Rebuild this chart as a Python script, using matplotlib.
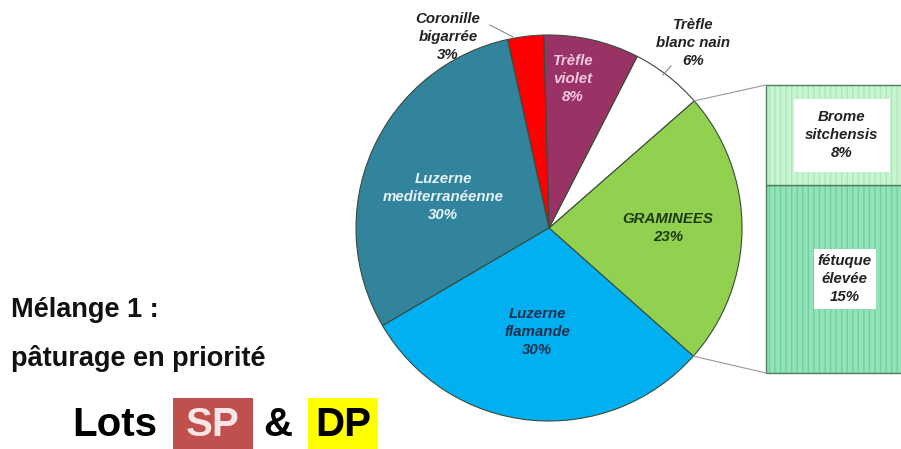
import matplotlib
matplotlib.use("Agg")
import math
import matplotlib.pyplot as plt
from matplotlib.patches import Rectangle

# ---- data ----
pie_labels = ["GRAMINEES", "Trèfle\nblanc nain", "Trèfle\nviolet", "Coronille\nbigarrée",
              "Luzerne\nmediterranéenne", "Luzerne\nflamande"]
pie_values = [23, 6, 8, 3, 30, 30]
pie_colors = ["#92D050", "#FFFFFF", "#993366", "#FF0000", "#31849B", "#00B0F0"]
pie_text_colors = ["#1E3A10", "#222222", "#F2C6E0", "#222222", "#E6F2F8", "#1F3050"]

bar_labels = ["fétuque\nélevée", "Brome\nsitchensis"]
bar_values = [15, 8]
bar_colors = ["#93E3B8", "#C8F4D2"]
bar_hatch_colors = ["#72CFA0", "#AEE8BE"]

H = 449
fig = plt.figure(figsize=(9.01, 4.49), dpi=100)
ax = fig.add_axes([0, 0, 1, 1])

FONT = "Liberation Sans"
FS = 10.8
LS = 1.4

# ---- pie ----
cx, cy, R = 549, H - 228, 193
start = -41.6
wedges, _ = ax.pie(pie_values, colors=pie_colors, startangle=start, counterclock=True,
                   center=(cx, cy), radius=R, frame=True,
                   wedgeprops=dict(edgecolor="#3A4A3A", linewidth=0.8))
ax.set_xlim(0, 901)
ax.set_ylim(0, H)
ax.set_aspect("equal")
ax.axis("off")

label_pos = [(668, 228), (693, 43), (573, 79), (448, 37), (443, 197), (537, 332)]
for lab, v, (x, y), c in zip(pie_labels, pie_values, label_pos, pie_text_colors):
    ax.text(x, H - y, f"{lab}\n{v}%", ha="center", va="center", color=c,
            fontsize=FS, fontweight="bold", fontstyle="italic", family=FONT,
            linespacing=LS)

# leader lines
ax.plot([490, 513], [H - 25, H - 37], color="#888888", lw=0.8)
ax.plot([671, 663], [H - 66, H - 75], color="#888888", lw=0.8)

# ---- bar of pie ----
px_per_pct = 288 / sum(bar_values)
bx0, bw = 766, 150
bottom_px = 373
bottom = H - bottom_px
label_x = [845, 842]
pads = [3, 8]
for lab, v, fc, hc, lx, pd in zip(bar_labels, bar_values, bar_colors, bar_hatch_colors,
                                  label_x, pads):
    h = v * px_per_pct
    ax.bar(bx0, h, width=bw, bottom=bottom, align="edge", color=fc, edgecolor="none")
    ax.bar(bx0, h, width=bw, bottom=bottom, align="edge", color="none",
           edgecolor=hc, hatch="|||", linewidth=0)
    ax.bar(bx0, h, width=bw, bottom=bottom, align="edge", color="none",
           edgecolor="#4F7F60", linewidth=1.0)
    ax.text(lx, bottom + h / 2, f"{lab}\n{v}%", ha="center", va="center",
            fontsize=FS, fontweight="bold", fontstyle="italic", family=FONT,
            color="#222222", linespacing=LS,
            bbox=dict(facecolor="white", edgecolor="none", pad=pd))
    bottom += h

top = bottom
a1 = math.radians(start + 360 * pie_values[0] / 100)
a2 = math.radians(start)
p1 = (cx + R * math.cos(a1), cy + R * math.sin(a1))
p2 = (cx + R * math.cos(a2), cy + R * math.sin(a2))
ax.plot([p1[0], bx0], [p1[1], top], color="#999999", lw=0.8)
ax.plot([p2[0], bx0], [p2[1], H - bottom_px], color="#999999", lw=0.8)

# ---- left texts ----
ax.text(11, H - 317, "Mélange 1 :", ha="left", va="baseline", fontsize=19.5,
        fontweight="bold", family=FONT, color="#111111")
ax.text(11, H - 366, "pâturage en priorité", ha="left", va="baseline", fontsize=19.5,
        fontweight="bold", family=FONT, color="#111111")

ax.add_patch(Rectangle((173, 0), 80, H - 398, facecolor="#C0504D", edgecolor="none"))
ax.add_patch(Rectangle((308, 0), 70, H - 398, facecolor="#FFFF00", edgecolor="none"))
ax.text(72, H - 425, "Lots", ha="left", va="center", fontsize=29,
        fontweight="bold", family=FONT, color="black")
ax.text(213, H - 425, "SP", ha="center", va="center", fontsize=29,
        fontweight="bold", family=FONT, color="#FBE4E4")
ax.text(278, H - 425, "&", ha="center", va="center", fontsize=29,
        fontweight="bold", family=FONT, color="black")
ax.text(343, H - 425, "DP", ha="center", va="center", fontsize=29,
        fontweight="bold", family=FONT, color="black")

fig.savefig("out.png", dpi=100)
